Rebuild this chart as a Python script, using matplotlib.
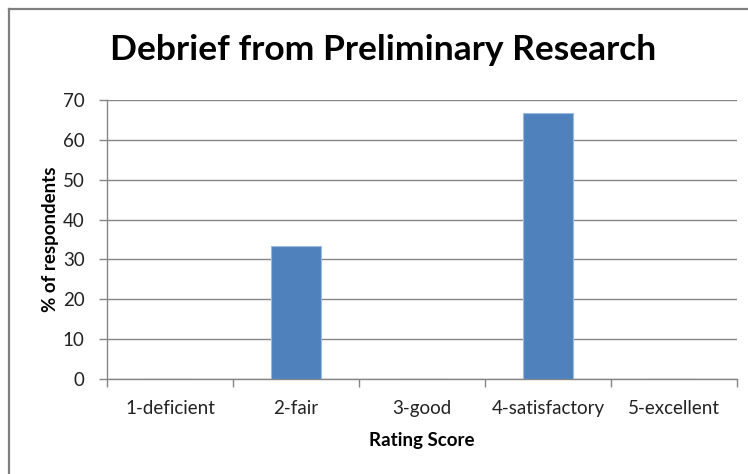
import matplotlib
matplotlib.use("Agg")
import matplotlib.pyplot as plt
from matplotlib.lines import Line2D

categories = ["1-deficient", "2-fair", "3-good", "4-satisfactory", "5-excellent"]
percent = [0, 33.33, 0, 66.67, 0]
y_ticks = [0, 10, 20, 30, 40, 50, 60, 70]

plt.rcParams['font.family'] = ['Lato', 'DejaVu Sans']
grey = "#868686"

fig = plt.figure(figsize=(7.48, 4.74), dpi=100)
ax = fig.add_axes([107 / 748, 95 / 474, 630 / 748, 279 / 474])

x = list(range(len(categories)))
ax.bar(x, percent, width=0.4, color="#4F81BD", edgecolor="#9DB9DE", linewidth=0.8, zorder=3)

ax.set_xlim(-0.5, len(categories) - 0.5)
ax.set_ylim(0, 70)
ax.set_yticks(y_ticks)
ax.set_yticklabels([str(v) for v in y_ticks], fontsize=13.5, color="#222222")
ax.yaxis.grid(True, color=grey, linewidth=1.0, zorder=0)

ax.set_xticks(x)
ax.set_xticklabels(categories, fontsize=13.5, color="#222222")
ax.set_xticks([i - 0.5 for i in range(len(categories) + 1)], minor=True)
ax.tick_params(axis="x", which="major", length=0, pad=15)
ax.tick_params(axis="x", which="minor", length=6, color=grey, width=1)
ax.tick_params(axis="y", length=6, color=grey, width=1, pad=10)

for s in ["top", "right"]:
    ax.spines[s].set_visible(False)
for s in ["left", "bottom"]:
    ax.spines[s].set_color(grey)
    ax.spines[s].set_linewidth(1.0)

ax.set_xlabel("Rating Score", fontsize=13.5, fontweight="bold", labelpad=11)
ax.set_ylabel("% of respondents", fontsize=13.5, fontweight="bold", labelpad=3)

fig.text(383 / 748, 1 - 50 / 474, "Debrief from Preliminary Research",
         fontsize=25.5, fontweight="bold", ha="center", va="center")

# chart frame (left and top edges visible)
fig.add_artist(Line2D([9 / 748, 9 / 748], [0, 1 - 9 / 474], color="#808080", linewidth=1.6,
                      transform=fig.transFigure))
fig.add_artist(Line2D([9 / 748, 1], [1 - 9 / 474, 1 - 9 / 474], color="#808080", linewidth=1.6,
                      transform=fig.transFigure))

fig.savefig("out.png", dpi=100)
